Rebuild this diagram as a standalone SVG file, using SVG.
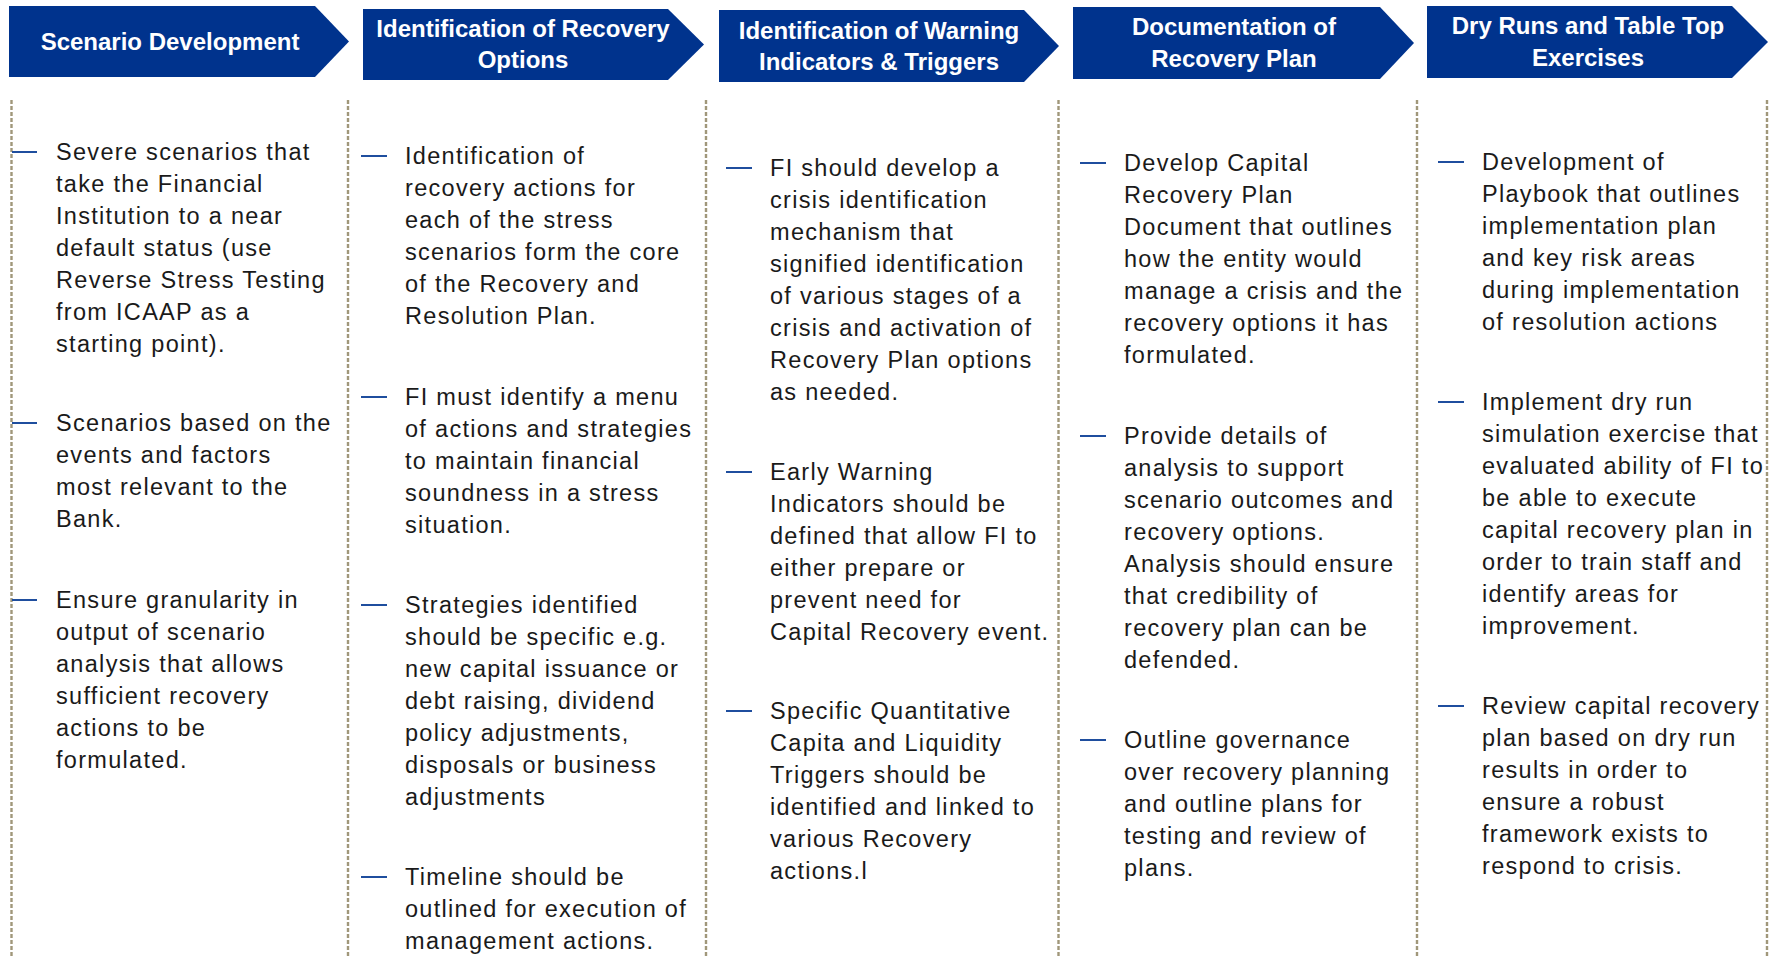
<svg xmlns="http://www.w3.org/2000/svg" width="1779" height="957" viewBox="0 0 1779 957">
  <style>
    .chev { fill: #00338D; }
    .head { fill: #FFFFFF; font-family: "Liberation Sans", Arial, sans-serif; font-weight: bold; font-size: 24px; text-anchor: middle; }
    .body { fill: #1A1A1A; font-family: "Liberation Sans", Arial, sans-serif; font-size: 23.5px; letter-spacing: 1.3px; }
    .dash { stroke: #1F4E9E; stroke-width: 2; }
    .div { stroke: #A0977A; stroke-width: 2.4; stroke-dasharray: 4 2; fill: none; }
  </style>
  <rect width="1779" height="957" fill="#FFFFFF"/>

  <!-- column separators -->
  <g id="dividers">
    <line class="div" x1="11.5" y1="100" x2="11.5" y2="957"/>
    <line class="div" x1="348" y1="100" x2="348" y2="957"/>
    <line class="div" x1="706" y1="100" x2="706" y2="957"/>
    <line class="div" x1="1058.5" y1="100" x2="1058.5" y2="957"/>
    <line class="div" x1="1417" y1="100" x2="1417" y2="957"/>
    <line class="div" x1="1767" y1="100" x2="1767" y2="957"/>
  </g>

  <g id="connectors"></g>

  <!-- Stage 1 -->
  <g id="scenario-development">
    <path class="chev" d="M9,6 L315,6 L349,41.5 L315,77 L9,77 Z"/>
    <text class="head" x="170" y="50">Scenario Development</text>
    <line class="dash" x1="12" y1="152" x2="37" y2="152"/>
    <text class="body" x="56">
      <tspan x="56" y="160">Severe scenarios that</tspan>
      <tspan x="56" y="192">take the Financial</tspan>
      <tspan x="56" y="224">Institution to a near</tspan>
      <tspan x="56" y="256">default status (use</tspan>
      <tspan x="56" y="288">Reverse Stress Testing</tspan>
      <tspan x="56" y="320">from ICAAP as a</tspan>
      <tspan x="56" y="352">starting point).</tspan>
    </text>
    <line class="dash" x1="12" y1="423" x2="37" y2="423"/>
    <text class="body" x="56">
      <tspan x="56" y="431">Scenarios based on the</tspan>
      <tspan x="56" y="463">events and factors</tspan>
      <tspan x="56" y="495">most relevant to the</tspan>
      <tspan x="56" y="527">Bank.</tspan>
    </text>
    <line class="dash" x1="12" y1="600" x2="37" y2="600"/>
    <text class="body" x="56">
      <tspan x="56" y="608">Ensure granularity in</tspan>
      <tspan x="56" y="640">output of scenario</tspan>
      <tspan x="56" y="672">analysis that allows</tspan>
      <tspan x="56" y="704">sufficient recovery</tspan>
      <tspan x="56" y="736">actions to be</tspan>
      <tspan x="56" y="768">formulated.</tspan>
    </text>
  </g>

  <!-- Stage 2 -->
  <g id="recovery-options">
    <path class="chev" d="M363,9 L668,9 L704,44.5 L668,80 L363,80 Z"/>
    <text class="head" x="523" y="37">Identification of Recovery</text>
    <text class="head" x="523" y="67.5">Options</text>
    <line class="dash" x1="361" y1="156" x2="387" y2="156"/>
    <text class="body" x="405">
      <tspan x="405" y="164">Identification of</tspan>
      <tspan x="405" y="196">recovery actions for</tspan>
      <tspan x="405" y="228">each of the stress</tspan>
      <tspan x="405" y="260">scenarios form the core</tspan>
      <tspan x="405" y="292">of the Recovery and</tspan>
      <tspan x="405" y="324">Resolution Plan.</tspan>
    </text>
    <line class="dash" x1="361" y1="397" x2="387" y2="397"/>
    <text class="body" x="405">
      <tspan x="405" y="405">FI must identify a menu</tspan>
      <tspan x="405" y="437">of actions and strategies</tspan>
      <tspan x="405" y="469">to maintain financial</tspan>
      <tspan x="405" y="501">soundness in a stress</tspan>
      <tspan x="405" y="533">situation.</tspan>
    </text>
    <line class="dash" x1="361" y1="605" x2="387" y2="605"/>
    <text class="body" x="405">
      <tspan x="405" y="613">Strategies identified</tspan>
      <tspan x="405" y="645">should be specific e.g.</tspan>
      <tspan x="405" y="677">new capital issuance or</tspan>
      <tspan x="405" y="709">debt raising, dividend</tspan>
      <tspan x="405" y="741">policy adjustments,</tspan>
      <tspan x="405" y="773">disposals or business</tspan>
      <tspan x="405" y="805">adjustments</tspan>
    </text>
    <line class="dash" x1="361" y1="877" x2="387" y2="877"/>
    <text class="body" x="405">
      <tspan x="405" y="885">Timeline should be</tspan>
      <tspan x="405" y="917">outlined for execution of</tspan>
      <tspan x="405" y="949">management actions.</tspan>
    </text>
  </g>

  <!-- Stage 3 -->
  <g id="warning-indicators">
    <path class="chev" d="M719,10 L1024,10 L1059,46 L1024,82 L719,82 Z"/>
    <text class="head" x="879" y="38.5">Identification of Warning</text>
    <text class="head" x="879" y="69.5">Indicators &amp; Triggers</text>
    <line class="dash" x1="726" y1="168" x2="752" y2="168"/>
    <text class="body" x="770">
      <tspan x="770" y="176">FI should develop a</tspan>
      <tspan x="770" y="208">crisis identification</tspan>
      <tspan x="770" y="240">mechanism that</tspan>
      <tspan x="770" y="272">signified identification</tspan>
      <tspan x="770" y="304">of various stages of a</tspan>
      <tspan x="770" y="336">crisis and activation of</tspan>
      <tspan x="770" y="368">Recovery Plan options</tspan>
      <tspan x="770" y="400">as needed.</tspan>
    </text>
    <line class="dash" x1="726" y1="472" x2="752" y2="472"/>
    <text class="body" x="770">
      <tspan x="770" y="480">Early Warning</tspan>
      <tspan x="770" y="512">Indicators should be</tspan>
      <tspan x="770" y="544">defined that allow FI to</tspan>
      <tspan x="770" y="576">either prepare or</tspan>
      <tspan x="770" y="608">prevent need for</tspan>
      <tspan x="770" y="640">Capital Recovery event.</tspan>
    </text>
    <line class="dash" x1="726" y1="711" x2="752" y2="711"/>
    <text class="body" x="770">
      <tspan x="770" y="719">Specific Quantitative</tspan>
      <tspan x="770" y="751">Capita and Liquidity</tspan>
      <tspan x="770" y="783">Triggers should be</tspan>
      <tspan x="770" y="815">identified and linked to</tspan>
      <tspan x="770" y="847">various Recovery</tspan>
      <tspan x="770" y="879">actions.l</tspan>
    </text>
  </g>

  <!-- Stage 4 -->
  <g id="recovery-plan-documentation">
    <path class="chev" d="M1073,7 L1380,7 L1414,43 L1380,79 L1073,79 Z"/>
    <text class="head" x="1234" y="35">Documentation of</text>
    <text class="head" x="1234" y="67">Recovery Plan</text>
    <line class="dash" x1="1080" y1="163" x2="1106" y2="163"/>
    <text class="body" x="1124">
      <tspan x="1124" y="171">Develop Capital</tspan>
      <tspan x="1124" y="203">Recovery Plan</tspan>
      <tspan x="1124" y="235">Document that outlines</tspan>
      <tspan x="1124" y="267">how the entity would</tspan>
      <tspan x="1124" y="299">manage a crisis and the</tspan>
      <tspan x="1124" y="331">recovery options it has</tspan>
      <tspan x="1124" y="363">formulated.</tspan>
    </text>
    <line class="dash" x1="1080" y1="436" x2="1106" y2="436"/>
    <text class="body" x="1124">
      <tspan x="1124" y="444">Provide details of</tspan>
      <tspan x="1124" y="476">analysis to support</tspan>
      <tspan x="1124" y="508">scenario outcomes and</tspan>
      <tspan x="1124" y="540">recovery options.</tspan>
      <tspan x="1124" y="572">Analysis should ensure</tspan>
      <tspan x="1124" y="604">that credibility of</tspan>
      <tspan x="1124" y="636">recovery plan can be</tspan>
      <tspan x="1124" y="668">defended.</tspan>
    </text>
    <line class="dash" x1="1080" y1="740" x2="1106" y2="740"/>
    <text class="body" x="1124">
      <tspan x="1124" y="748">Outline governance</tspan>
      <tspan x="1124" y="780">over recovery planning</tspan>
      <tspan x="1124" y="812">and outline plans for</tspan>
      <tspan x="1124" y="844">testing and review of</tspan>
      <tspan x="1124" y="876">plans.</tspan>
    </text>
  </g>

  <!-- Stage 5 -->
  <g id="dry-runs">
    <path class="chev" d="M1427,6 L1732,6 L1768,42 L1732,78 L1427,78 Z"/>
    <text class="head" x="1588" y="34">Dry Runs and Table Top</text>
    <text class="head" x="1588" y="66">Exercises</text>
    <line class="dash" x1="1438" y1="162" x2="1464" y2="162"/>
    <text class="body" x="1482">
      <tspan x="1482" y="170">Development of</tspan>
      <tspan x="1482" y="202">Playbook that outlines</tspan>
      <tspan x="1482" y="234">implementation plan</tspan>
      <tspan x="1482" y="266">and key risk areas</tspan>
      <tspan x="1482" y="298">during implementation</tspan>
      <tspan x="1482" y="330">of resolution actions</tspan>
    </text>
    <line class="dash" x1="1438" y1="402" x2="1464" y2="402"/>
    <text class="body" x="1482">
      <tspan x="1482" y="410">Implement dry run</tspan>
      <tspan x="1482" y="442">simulation exercise that</tspan>
      <tspan x="1482" y="474">evaluated ability of FI to</tspan>
      <tspan x="1482" y="506">be able to execute</tspan>
      <tspan x="1482" y="538">capital recovery plan in</tspan>
      <tspan x="1482" y="570">order to train staff and</tspan>
      <tspan x="1482" y="602">identify areas for</tspan>
      <tspan x="1482" y="634">improvement.</tspan>
    </text>
    <line class="dash" x1="1438" y1="706" x2="1464" y2="706"/>
    <text class="body" x="1482">
      <tspan x="1482" y="714">Review capital recovery</tspan>
      <tspan x="1482" y="746">plan based on dry run</tspan>
      <tspan x="1482" y="778">results in order to</tspan>
      <tspan x="1482" y="810">ensure a robust</tspan>
      <tspan x="1482" y="842">framework exists to</tspan>
      <tspan x="1482" y="874">respond to crisis.</tspan>
    </text>
  </g>
</svg>
